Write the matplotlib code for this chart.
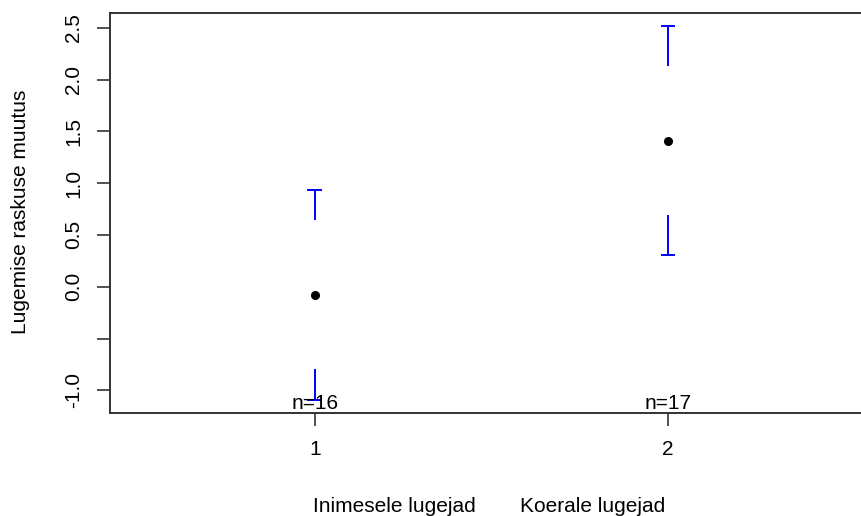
"""Group means with confidence intervals (plotmeans-style) for two reader groups."""

import numpy as np
import matplotlib

matplotlib.use("Agg")
import matplotlib.pyplot as plt

# values
group_pos = [1, 2]
group_names = ["Inimesele lugejad", "Koerale lugejad"]
means = [-0.078, 1.41]
ci_lower = [-1.092, 0.304]
ci_upper = [0.936, 2.514]
counts = [16, 17]
y_ticks = [-1.0, -0.5, 0.0, 0.5, 1.0, 1.5, 2.0, 2.5]
y_tick_labels = ["-1.0", "", "0.0", "0.5", "1.0", "1.5", "2.0", "2.5"]

plt.rcParams["font.family"] = ["Liberation Sans", "DejaVu Sans"]
FS = 15
W, H = 862, 516


def main() -> None:
    fig = plt.figure(figsize=(W / 100, H / 100), dpi=100)
    ax = fig.add_axes([110 / W, 1 - 412.7 / H, 762.7 / W, (412.7 - 13.3) / H])

    ax.set_xlim(0.42, 2.58)
    ax.set_ylim(-1.216, 2.639)

    # gap around the mean where the CI line is not drawn (data units)
    gap = 0.72
    cap = 0.018
    for x, m, lo, hi in zip(group_pos, means, ci_lower, ci_upper):
        ax.plot([x, x], [hi, m + gap], color="#0000ff", lw=1.4, solid_capstyle="butt")
        ax.plot([x, x], [lo, m - gap], color="#0000ff", lw=1.4, solid_capstyle="butt")
        ax.plot([x - cap, x + cap], [hi, hi], color="#0000ff", lw=1.4)
        ax.plot([x - cap, x + cap], [lo, lo], color="#0000ff", lw=1.4)
    ax.plot(group_pos, means, "o", color="black", ms=5.5, ls="none")

    for x, n in zip(group_pos, counts):
        ax.text(x, -1.216, f"n={n}", ha="center", va="bottom", fontsize=FS)

    ax.set_xticks(group_pos)
    ax.set_xticklabels([str(p) for p in group_pos])
    ax.set_yticks(y_ticks)
    ax.set_yticklabels(y_tick_labels, rotation=90, va="center")
    ax.tick_params(axis="both", labelsize=FS, length=9.4, width=1.2, pad=10,
                   color="#333333")
    for sp in ax.spines.values():
        sp.set_linewidth(1.4)
        sp.set_color("#333333")

    fig.text(21 / W, 1 - 212 / H, "Lugemise raskuse muutus", rotation=90,
             ha="center", va="center", fontsize=FS)
    for cx, name in zip([394, 593], group_names):
        fig.text(cx / W, 4 / H, name, ha="center", va="baseline", fontsize=FS)

    fig.savefig("out.png", dpi=100)
    plt.close(fig)


if __name__ == "__main__":
    main()
